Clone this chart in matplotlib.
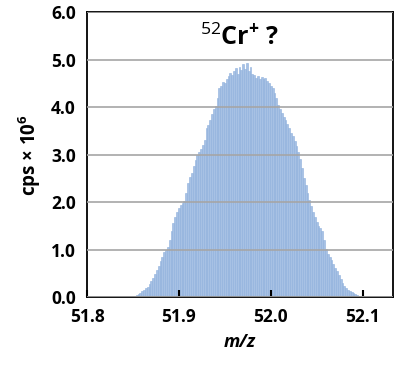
import numpy as np
import matplotlib
matplotlib.use('Agg')
import matplotlib.pyplot as plt

# m/z positions (step 0.002) and intensities (cps x 1e6)
mz_start = 51.848
mz_step = 0.002
cps = [0.01, 0.02, 0.03, 0.05, 0.07, 0.09, 0.12, 0.15, 0.18, 0.22,
       0.27, 0.33, 0.40, 0.48, 0.56, 0.66, 0.76, 0.85, 0.94, 1.00,
       1.05, 1.20, 1.40, 1.55, 1.68, 1.80, 1.88, 1.93, 1.98, 2.02,
       2.20, 2.40, 2.52, 2.62, 2.75, 2.88, 3.00, 3.05, 3.12, 3.20,
       3.30, 3.55, 3.62, 3.72, 3.85, 3.95, 4.02, 4.20, 4.40, 4.45,
       4.52, 4.50, 4.60, 4.65, 4.72, 4.68, 4.75, 4.82, 4.70, 4.85,
       4.78, 4.90, 4.80, 4.92, 4.75, 4.85, 4.70, 4.68, 4.62, 4.65,
       4.60, 4.63, 4.58, 4.62, 4.55, 4.50, 4.45, 4.40, 4.30, 4.18,
       4.05, 3.95, 3.88, 3.80, 3.72, 3.65, 3.55, 3.45, 3.38, 3.28,
       3.18, 3.05, 2.90, 2.72, 2.50, 2.35, 2.20, 2.05, 1.92, 1.80,
       1.68, 1.58, 1.50, 1.45, 1.38, 1.20, 1.02, 0.90, 0.85, 0.78,
       0.70, 0.62, 0.55, 0.47, 0.38, 0.30, 0.24, 0.19, 0.15, 0.12,
       0.10, 0.08, 0.06, 0.04, 0.03, 0.02, 0.01]
mz = mz_start + mz_step * np.arange(len(cps))

xticks = [51.8, 51.9, 52.0, 52.1]
yticks = [0, 1, 2, 3, 4, 5, 6]

plt.rcParams['font.family'] = ['Open Sans', 'DejaVu Sans']
plt.rcParams['mathtext.fontset'] = 'custom'
plt.rcParams['mathtext.rm'] = 'Open Sans'
plt.rcParams['mathtext.bf'] = 'Open Sans:bold'

fig = plt.figure(figsize=(4.12, 3.65), dpi=100)
ax = fig.add_axes([0.2112, 0.1863, 0.7427, 0.7808])

ax.bar(mz, cps, width=0.002, color='#a7c1e4', edgecolor='#8eb0dc',
       linewidth=0.4, zorder=1)

ax.set_xlim(51.8, 52.133)
ax.set_ylim(0, 6)
ax.set_xticks(xticks)
ax.set_xticklabels(['%.1f' % t for t in xticks], fontsize=12.5, fontweight='bold')
ax.set_yticks(yticks)
ax.set_yticklabels(['%.1f' % t for t in yticks], fontsize=12.5, fontweight='bold')
ax.tick_params(axis='x', direction='in', length=5, width=1.5, pad=8)
ax.tick_params(axis='y', length=0, pad=8)
ax.yaxis.grid(True, color='#a6a6a6', linewidth=1.2, zorder=2)
ax.set_axisbelow(False)
for s in ax.spines.values():
    s.set_linewidth(1.3)
    s.set_color('black')

ax.set_xlabel('m/z', fontsize=13, fontweight='bold', fontstyle='italic', labelpad=5)
ax.set_ylabel(r'cps × 10$^{\mathbf{6}}$', fontsize=13.5, fontweight='bold', labelpad=6)
ax.text(0.5, 0.91, r'$^{52}$Cr$^{\mathbf{+}}$ ?', transform=ax.transAxes,
        ha='center', va='center', fontsize=18, fontweight='bold')

fig.savefig('out.png', dpi=100)
